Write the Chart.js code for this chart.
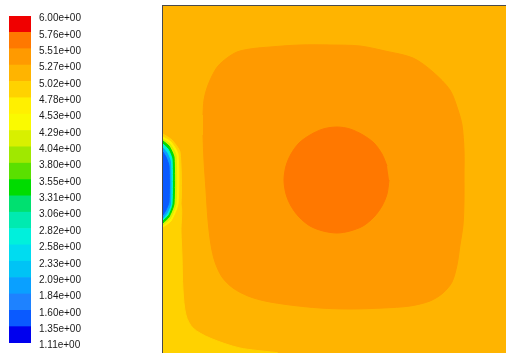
<!DOCTYPE html>
<html>
<head>
<meta charset="utf-8">
<script src="https://cdn.jsdelivr.net/npm/chart.js@4.4.0/dist/chart.umd.min.js"></script>
<style>
  html, body { margin: 0; padding: 0; background: #ffffff; }
  body { width: 506px; height: 353px; position: relative; overflow: hidden; }
  #bar { position: absolute; left: 0; top: 0; }
  #field { position: absolute; left: 150px; top: 0; }
</style>
</head>
<body>
<canvas id="bar" width="150" height="353"></canvas>
<canvas id="field" width="356" height="353"></canvas>
<script>
// ---- colour scale (contour levels, ascending) ----
const levels = [1.11, 1.3545, 1.599, 1.8435, 2.088, 2.3325, 2.577, 2.8215, 3.066, 3.3105,
                3.555, 3.7995, 4.044, 4.2885, 4.533, 4.7775, 5.022, 5.2665, 5.511, 5.7555, 6.00];
const tickLabels = ['1.11e+00','1.35e+00','1.60e+00','1.84e+00','2.09e+00','2.33e+00','2.58e+00',
                    '2.82e+00','3.06e+00','3.31e+00','3.55e+00','3.80e+00','4.04e+00','4.29e+00',
                    '4.53e+00','4.78e+00','5.02e+00','5.27e+00','5.51e+00','5.76e+00','6.00e+00'];
const bandColors = ['#0000ee','#0a5aff','#1e82ff','#0aa0ff','#00c3f5','#00dcf0','#00f0dc','#00eab0',
                    '#00e070','#00dc00','#5ae000','#a0e800','#d8f000','#fafa00','#fff000','#ffd200',
                    '#ffb400','#ff9a00','#ff7800','#f00000'];

// ---- contour regions (domain coords, origin top-left) ----
const domainRegion = [[0,0],[343,0],[343,347],[0,347]];              // band 16
const lowerLeftRegion = [[0,196],[17,196],[18,226],[19,250],[20,284],[23,309],[30,322],
                         [47,332],[77,342],[114,347],[0,347]];        // band 15
const ringRegion = [[40,109],[41,94],[44,82],[49,70],[55,60],[64,52],[74,46],[87,43],
                    [107,41],[137,39],[167,39],[197,40],[222,45],[250,52],[270,66],
                    [287,84],[295,104],[299,119],[301,144],[301,170],[301,194],[300,219],
                    [297,239],[294,259],[289,276],[280,287],[267,295],[247,300],[220,302],
                    [187,303],[157,302],[127,299],[102,295],[85,290],[70,282],[59,271],
                    [52,256],[48,239],[45,214],[43,184],[41,154],[40,129]];  // band 17
const coreRegion = [[226,174],[224,188],[219,200],[211,211],[200,220],[187,225],[174,227],
                    [160,225],[147,220],[136,211],[128,200],[123,188],[121,174],[123,160],
                    [128,148],[136,137],[147,129],[160,123],[174,121],[187,123],[200,129],
                    [211,137],[219,148],[224,160]];                   // band 18
const spotBand15 = [[0,128],[9,134],[17,146],[18,198],[10,217],[0,224]];
const spotBand14 = [[0,131],[8,136],[15,148],[15,198],[8,215],[0,221]];
const spotBand12 = [[0,133],[7,138],[13,149],[13,198],[7,213],[0,219]];
const spotBand9  = [[0,135],[6,140],[11,151],[11,198],[6,211],[0,217]];
const spotBand6  = [[0,138],[5,143],[9,153],[9,198],[5,209],[0,214]];
const spotBand3  = [[0,142],[4,147],[7.5,156],[7.5,198],[4,207],[0,212]];
const spotBand1  = [[0,146],[3,151],[6,160],[6,196],[3,204],[0,209]];

// ---------------- colour bar ----------------
new Chart(document.getElementById('bar'), {
  type: 'bar',
  data: {
    labels: [''],
    datasets: bandColors.map((c, i) => ({
      data: [[levels[i], levels[i + 1]]],
      backgroundColor: c,
      borderWidth: 0,
      grouped: false,
      barPercentage: 1,
      categoryPercentage: 1
    }))
  },
  options: {
    responsive: false,
    devicePixelRatio: 1,
    animation: false,
    layout: { padding: { left: 9, top: 16, bottom: 10, right: 0 } },
    plugins: { legend: { display: false }, tooltip: { enabled: false } },
    scales: {
      x: { display: false },
      y: {
        type: 'linear', position: 'right', min: levels[0], max: levels[levels.length - 1],
        grid: { display: false, drawTicks: false },
        border: { display: false },
        afterFit: s => { s.width = 119; s.paddingTop = 0; s.paddingBottom = 0; },
        afterBuildTicks: s => { s.ticks = levels.map(v => ({ value: v })); },
        ticks: {
          autoSkip: false, padding: 8, labelOffset: 2.5, color: '#1a1a1a',
          font: { family: '"Liberation Sans", Arial, sans-serif', size: 10 },
          callback: (v, i) => tickLabels[i]
        }
      }
    }
  }
});

// ---------------- contour field ----------------
function region(pts, band, order, tension) {
  return {
    data: pts.map(p => ({ x: p[0], y: p[1] })),
    showLine: true,
    fill: 'shape',
    backgroundColor: bandColors[band],
    borderColor: bandColors[band],
    borderWidth: 1,
    pointRadius: 0,
    tension: tension,
    order: order
  };
}

new Chart(document.getElementById('field'), {
  type: 'scatter',
  data: {
    datasets: [
      region(domainRegion, 16, 100, 0),
      region(lowerLeftRegion, 15, 90, 0.3),
      region(ringRegion, 17, 80, 0.3),
      region(coreRegion, 18, 70, 0.3),
      region(spotBand15, 15, 60, 0.2),
      region(spotBand14, 14, 59, 0.2),
      region(spotBand12, 12, 58, 0.2),
      region(spotBand9, 9, 57, 0.2),
      region(spotBand6, 6, 56, 0.2),
      region(spotBand3, 3, 55, 0.2),
      region(spotBand1, 1, 54, 0.2)
    ]
  },
  options: {
    responsive: false,
    devicePixelRatio: 1,
    animation: false,
    layout: { padding: { left: 13, top: 6, right: 0, bottom: 0 } },
    plugins: { legend: { display: false }, tooltip: { enabled: false } },
    scales: {
      x: {
        type: 'linear', position: 'top', min: 0, max: 343,
        grid: { display: false, drawTicks: false },
        ticks: { display: false },
        border: { display: true, color: '#4a4a4a', width: 2 },
        afterFit: s => { s.height = 0; }
      },
      y: {
        type: 'linear', position: 'left', min: 0, max: 347, reverse: true,
        grid: { display: false, drawTicks: false },
        ticks: { display: false },
        border: { display: true, color: '#4a4a4a', width: 2 },
        afterFit: s => { s.width = 0; }
      }
    }
  }
});
</script>
</body>
</html>
